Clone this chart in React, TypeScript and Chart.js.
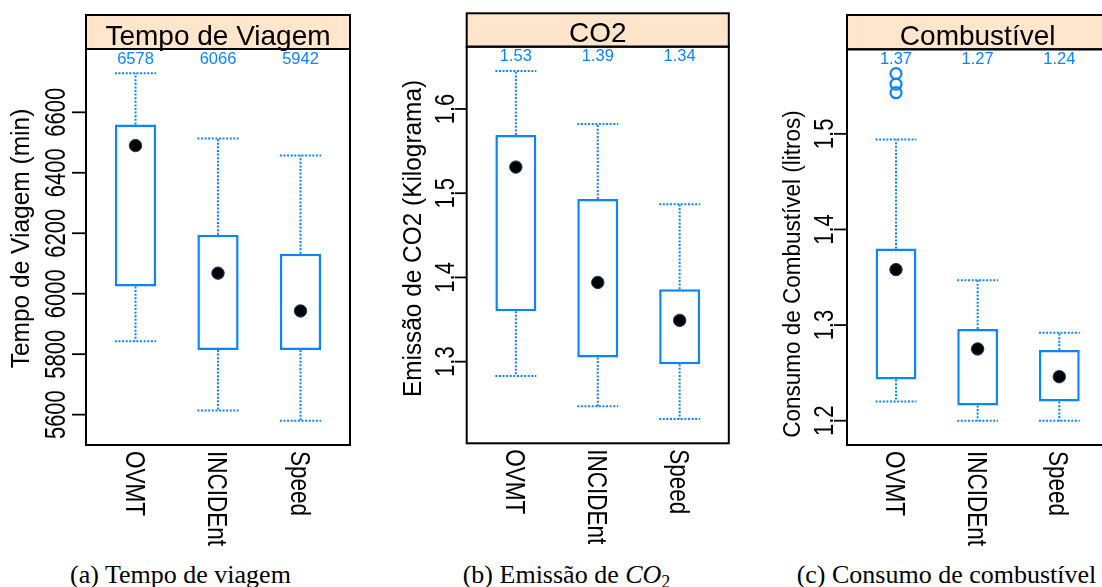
import React, { useEffect, useRef } from "react";
import { Chart, registerables } from "chart.js";

Chart.register(...registerables);

const BLUE = "#0a84ff";
const STRIP_BG = "#ffe5cc";
const SANS = '"Liberation Sans", Arial, sans-serif';
const SERIF = '"Liberation Serif", "Times New Roman", serif';

const categories = ["OVMT", "INCIDEnt", "Speed"];

// (a) Tempo de viagem
const tempoLower = [5843, 5614, 5580];
const tempoQ1 = [6024, 5814, 5814];
const tempoMedian = [6490, 6068, 5943];
const tempoQ3 = [6560, 6195, 6132];
const tempoUpper = [6729, 6513, 6457];
const tempoOutliers: number[][] = [[], [], []];
const tempoMeanLabels = ["6578", "6066", "5942"];
const tempoTicks = [5600, 5800, 6000, 6200, 6400, 6600];

// (b) Emissão de CO2
const co2Lower = [1.283, 1.247, 1.232];
const co2Q1 = [1.36, 1.305, 1.297];
const co2Median = [1.531, 1.394, 1.349];
const co2Q3 = [1.569, 1.493, 1.386];
const co2Upper = [1.645, 1.582, 1.487];
const co2Outliers: number[][] = [[], [], []];
const co2MeanLabels = ["1.53", "1.39", "1.34"];
const co2Ticks = [1.3, 1.4, 1.5, 1.6];

// (c) Consumo de combustível
const fuelLower = [1.22, 1.2, 1.2];
const fuelQ1 = [1.243, 1.216, 1.22];
const fuelMedian = [1.358, 1.275, 1.246];
const fuelQ3 = [1.38, 1.296, 1.274];
const fuelUpper = [1.494, 1.347, 1.292];
const fuelOutliers: number[][] = [[1.543, 1.552, 1.563], [], []];
const fuelMeanLabels = ["1.37", "1.27", "1.24"];
const fuelTicks = [1.2, 1.3, 1.4, 1.5];

const CANVAS_H = 560;
const BOX_HALF = 0.25;

type PanelCfg = {
  title: string;
  yTitle: string;
  lower: number[];
  q1: number[];
  median: number[];
  q3: number[];
  upper: number[];
  outliers: number[][];
  means: string[];
  ticks: number[];
  decimals: number;
  canvasLeft: number;
  canvasW: number;
  caLeft: number;
  caRight: number;
  caTop: number;
  caBottom: number;
  stripH: number;
  tickLen: number;
  tickLabelOffset: number;
  tickK: number;
  titleOffset: number;
  titleCenterY: number;
  titleFont: number;
};

const panels: PanelCfg[] = [
  {
    title: "Tempo de Viagem",
    yTitle: "Tempo de Viagem (min)",
    lower: tempoLower, q1: tempoQ1, median: tempoMedian, q3: tempoQ3, upper: tempoUpper,
    outliers: tempoOutliers, means: tempoMeanLabels, ticks: tempoTicks, decimals: 0,
    canvasLeft: 0, canvasW: 368, caLeft: 86, caRight: 350, caTop: 49, caBottom: 445,
    stripH: 34, tickLen: 14, tickLabelOffset: 21, tickK: 1.35,
    titleOffset: 57.4, titleCenterY: 238.5, titleFont: 24.5,
  },
  {
    title: "CO2",
    yTitle: "Emissão de CO2 (Kilograma)",
    lower: co2Lower, q1: co2Q1, median: co2Median, q3: co2Q3, upper: co2Upper,
    outliers: co2Outliers, means: co2MeanLabels, ticks: co2Ticks, decimals: 1,
    canvasLeft: 368, canvasW: 368, caLeft: 98.7, caRight: 363, caTop: 46.7, caBottom: 443.3,
    stripH: 33.4, tickLen: 12, tickLabelOffset: 13, tickK: 1.22,
    titleOffset: 45.4, titleCenterY: 238.5, titleFont: 24.4,
  },
  {
    title: "Combustível",
    yTitle: "Consumo de Combustível (litros)",
    lower: fuelLower, q1: fuelQ1, median: fuelMedian, q3: fuelQ3, upper: fuelUpper,
    outliers: fuelOutliers, means: fuelMeanLabels, ticks: fuelTicks, decimals: 1,
    canvasLeft: 736, canvasW: 380, caLeft: 111, caRight: 376, caTop: 49.3, caBottom: 445,
    stripH: 34.3, tickLen: 13, tickLabelOffset: 14, tickK: 1.22,
    titleOffset: 47, titleCenterY: 274, titleFont: 22.5,
  },
];

function rotText(
  ctx: CanvasRenderingContext2D,
  text: string,
  x: number,
  y: number,
  angle: number,
  font: string,
  k: number,
  align: CanvasTextAlign,
  baseline: CanvasTextBaseline
) {
  ctx.save();
  ctx.translate(x, y);
  ctx.rotate(angle);
  ctx.scale(1, k);
  ctx.font = font;
  ctx.textAlign = align;
  ctx.textBaseline = baseline;
  ctx.fillText(text, 0, 0);
  ctx.restore();
}

function Panel({ cfg }: { cfg: PanelCfg }) {
  const ref = useRef<HTMLCanvasElement>(null);

  useEffect(() => {
    const canvas = ref.current;
    if (!canvas) return;
    const all = [...cfg.lower, ...cfg.upper, ...cfg.outliers.flat()];
    const lo = Math.min(...all);
    const hi = Math.max(...all);
    const ext = (hi - lo) * 0.07;

    const boxData = categories.map((_, i) => ({ x: i + 1, y: [cfg.q1[i], cfg.q3[i]] }));
    const medianData = categories.map((_, i) => ({ x: i + 1, y: cfg.median[i] }));
    const outlierData: { x: number; y: number }[] = [];
    cfg.outliers.forEach((arr, i) => arr.forEach((v) => outlierData.push({ x: i + 1, y: v })));

    const panelPlugin = {
      id: "latticePanel",
      beforeDatasetsDraw(chart: any) {
        const { ctx, scales } = chart;
        const xs = scales.x;
        const ys = scales.y;
        ctx.save();
        ctx.strokeStyle = BLUE;
        ctx.lineWidth = 2;
        ctx.setLineDash([2, 1.6]);
        categories.forEach((_, i) => {
          const xc = xs.getPixelForValue(i + 1);
          const xl = xs.getPixelForValue(i + 1 - BOX_HALF);
          const xr = xs.getPixelForValue(i + 1 + BOX_HALF);
          const yq3 = ys.getPixelForValue(cfg.q3[i]);
          const yq1 = ys.getPixelForValue(cfg.q1[i]);
          const yhi = ys.getPixelForValue(cfg.upper[i]);
          const ylo = ys.getPixelForValue(cfg.lower[i]);
          ctx.beginPath();
          ctx.moveTo(xc, yq3);
          ctx.lineTo(xc, yhi);
          ctx.moveTo(xl, yhi);
          ctx.lineTo(xr, yhi);
          ctx.moveTo(xc, yq1);
          ctx.lineTo(xc, ylo);
          ctx.moveTo(xl, ylo);
          ctx.lineTo(xr, ylo);
          ctx.stroke();
        });
        ctx.restore();
      },
      afterDraw(chart: any) {
        const { ctx, chartArea: ca, scales } = chart;
        const xs = scales.x;
        const ys = scales.y;
        const w = ca.right - ca.left;
        const h = ca.bottom - ca.top;
        ctx.save();
        ctx.setLineDash([]);
        const sTop = ca.top - cfg.stripH;
        ctx.fillStyle = STRIP_BG;
        ctx.fillRect(ca.left, sTop, w, cfg.stripH);
        ctx.strokeStyle = "#000";
        ctx.lineWidth = 2;
        ctx.strokeRect(ca.left, sTop, w, cfg.stripH);
        ctx.strokeRect(ca.left, ca.top, w, h);
        ctx.fillStyle = "#000";
        ctx.font = `28px ${SANS}`;
        ctx.textAlign = "center";
        ctx.textBaseline = "alphabetic";
        ctx.fillText(cfg.title, (ca.left + ca.right) / 2, ca.top - 4.5);
        ctx.fillStyle = BLUE;
        ctx.font = `16.5px ${SANS}`;
        ctx.textBaseline = "middle";
        categories.forEach((_, i) => {
          ctx.fillText(cfg.means[i], xs.getPixelForValue(i + 1), ca.top + 10);
        });
        ctx.strokeStyle = "#000";
        ctx.fillStyle = "#000";
        ctx.lineWidth = 1.8;
        cfg.ticks.forEach((v) => {
          const py = ys.getPixelForValue(v);
          ctx.beginPath();
          ctx.moveTo(ca.left - cfg.tickLen, py);
          ctx.lineTo(ca.left, py);
          ctx.stroke();
          rotText(ctx, v.toFixed(cfg.decimals), ca.left - cfg.tickLabelOffset, py, -Math.PI / 2,
            `22px ${SANS}`, cfg.tickK, "center", "alphabetic");
        });
        rotText(ctx, cfg.yTitle, ca.left - cfg.titleOffset, cfg.titleCenterY, -Math.PI / 2,
          `${cfg.titleFont}px ${SANS}`, 1.05, "center", "alphabetic");
        const catFont = 22.5;
        const catK = 1.22;
        const capHalf = (0.716 * catFont * catK) / 2;
        categories.forEach((c, i) => {
          const px = xs.getPixelForValue(i + 1);
          rotText(ctx, c, px - capHalf, ca.bottom + 6, Math.PI / 2,
            `${catFont}px ${SANS}`, catK, "left", "alphabetic");
        });
        ctx.restore();
      },
    };

    const chart = new Chart(canvas, {
      type: "bar",
      data: {
        datasets: [
          {
            type: "scatter",
            data: medianData,
            pointRadius: 6.2,
            pointHoverRadius: 6.2,
            pointBackgroundColor: "#000",
            pointBorderColor: "#0d3a6b",
            pointBorderWidth: 1,
            order: 0,
          } as any,
          {
            type: "scatter",
            data: outlierData,
            pointRadius: 5.5,
            pointHoverRadius: 5.5,
            pointBackgroundColor: "rgba(0,0,0,0)",
            pointBorderColor: BLUE,
            pointBorderWidth: 2.2,
            order: 1,
          } as any,
          {
            type: "bar",
            data: boxData,
            backgroundColor: "#ffffff",
            borderColor: BLUE,
            borderWidth: 2.5,
            borderSkipped: false,
            categoryPercentage: 1,
            barPercentage: 2 * BOX_HALF,
            order: 2,
          } as any,
        ],
      },
      options: {
        animation: false,
        responsive: false,
        maintainAspectRatio: false,
        events: [],
        layout: {
          padding: {
            left: cfg.caLeft,
            right: cfg.canvasW - cfg.caRight,
            top: cfg.caTop,
            bottom: CANVAS_H - cfg.caBottom,
          },
        },
        plugins: {
          legend: { display: false },
          tooltip: { enabled: false },
          title: { display: false },
        },
        scales: {
          x: {
            type: "linear",
            display: false,
            min: 0.4,
            max: categories.length + 0.6,
            offset: false,
            afterBuildTicks: (s: any) => {
              s.ticks = categories.map((_, i) => ({ value: i + 1 }));
            },
          },
          y: {
            type: "linear",
            display: false,
            min: lo - ext,
            max: hi + ext,
          },
        },
      } as any,
      plugins: [panelPlugin],
    });
    return () => chart.destroy();
  }, [cfg]);

  return (
    <canvas
      ref={ref}
      width={cfg.canvasW}
      height={CANVAS_H}
      style={{ position: "absolute", left: cfg.canvasLeft, top: 0, width: cfg.canvasW, height: CANVAS_H }}
    />
  );
}

const captionStyle = (center: number): React.CSSProperties => ({
  position: "absolute",
  left: center - 220,
  width: 440,
  top: 562,
  textAlign: "center",
  fontFamily: SERIF,
  fontSize: 26,
  lineHeight: "26px",
  whiteSpace: "nowrap",
  color: "#000",
});

export default function App() {
  return (
    <div
      style={{
        position: "absolute",
        left: 0,
        top: 0,
        width: 1102,
        height: 587,
        overflow: "hidden",
        background: "#fff",
      }}
    >
      {panels.map((p, i) => (
        <Panel key={i} cfg={p} />
      ))}
      <div style={captionStyle(180.5)}>(a) Tempo de viagem</div>
      <div style={captionStyle(566.5)}>
        (b) Emissão de <i>CO</i>
        <sub style={{ fontSize: 18, verticalAlign: "-5px", lineHeight: 0 }}>2</sub>
      </div>
      <div style={captionStyle(946.5)}>(c) Consumo de combustível</div>
    </div>
  );
}
